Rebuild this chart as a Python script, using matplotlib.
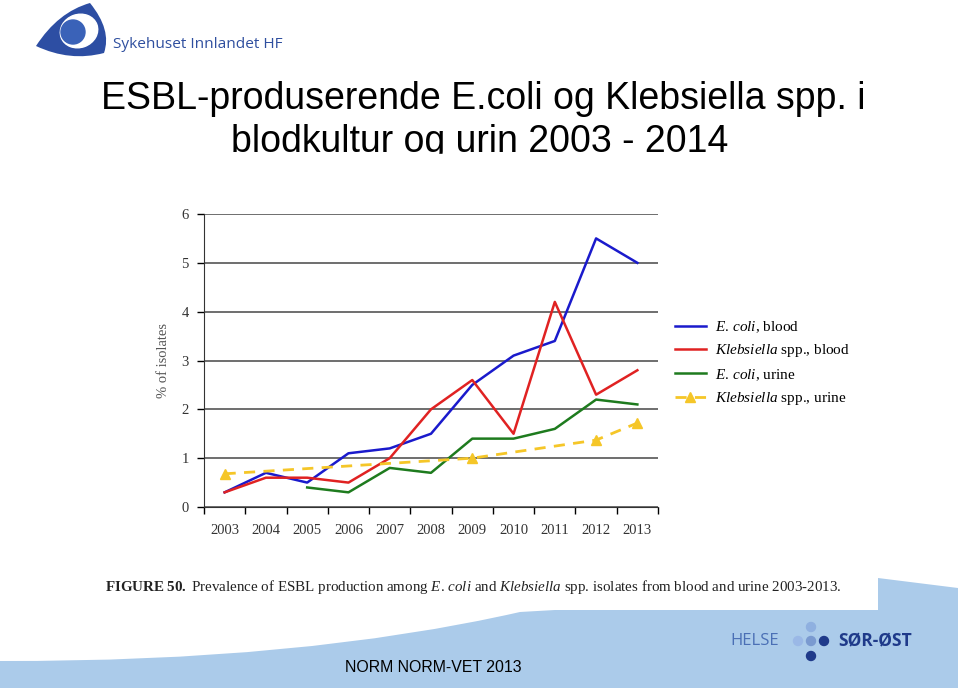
import numpy as np
import matplotlib
matplotlib.use("Agg")
import matplotlib.pyplot as plt
from matplotlib.patches import Ellipse, Circle, Rectangle, PathPatch
from matplotlib.path import Path

# ============================================================================
# Data
# ============================================================================
years = [2003, 2004, 2005, 2006, 2007, 2008, 2009, 2010, 2011, 2012, 2013]

ecoli_blood = [0.3, 0.7, 0.5, 1.1, 1.2, 1.5, 2.5, 3.1, 3.4, 5.5, 5.0]
kleb_blood = [0.3, 0.6, 0.6, 0.5, 1.0, 2.0, 2.6, 1.5, 4.2, 2.3, 2.8]
ecoli_urine = [np.nan, np.nan, 0.4, 0.3, 0.8, 0.7, 1.4, 1.4, 1.6, 2.2, 2.1]

kleb_urine_years = [2003, 2009, 2012, 2013]
kleb_urine = [0.68, 1.0, 1.37, 1.72]

y_ticks = [0, 1, 2, 3, 4, 5, 6]

labels = [r"$\it{E.\,coli}$, blood",
          r"$\it{Klebsiella}$ spp., blood",
          r"$\it{E.\,coli}$, urine",
          r"$\it{Klebsiella}$ spp., urine"]

# ============================================================================
# Style
# ============================================================================
plt.rcParams["mathtext.fontset"] = "custom"
plt.rcParams["mathtext.rm"] = "Liberation Serif"
plt.rcParams["mathtext.it"] = "Liberation Serif:italic"
plt.rcParams["mathtext.bf"] = "Liberation Serif:bold"

W, H = 960, 691
fig = plt.figure(figsize=(W / 100, H / 100), dpi=100)
fig.patch.set_facecolor("white")

# Background layer in pixel coordinates (slide decorations)
bg = fig.add_axes([0, 0, 1, 1], zorder=0)
bg.set_xlim(0, W)
bg.set_ylim(H, 0)
bg.axis("off")

# --- Sykehuset Innlandet logo ---
eye = Path([(36, 46), (58, 12), (90, 3), (112, 30), (104, 53),
            (70, 62), (36, 46)],
           [Path.MOVETO, Path.CURVE3, Path.CURVE3, Path.CURVE3, Path.CURVE3,
            Path.CURVE3, Path.CURVE3])
bg.add_patch(PathPatch(eye, facecolor="#2d4ea3", edgecolor="none"))
bg.add_patch(Ellipse((79, 31), 38, 33, angle=-20, color="white"))
bg.add_patch(Circle((73, 32), 12, color="#3a62b8"))
bg.text(113, 44, "Sykehuset Innlandet HF", fontsize=11.1, color="#2f4f9f",
        family="Open Sans", va="center", ha="left")

# --- Title (second line cut off by the chart box, as in the slide) ---
bg.text(483, 109, "ESBL-produserende E.coli og Klebsiella spp. i",
        fontsize=27, family="Liberation Sans", ha="center", va="baseline")
bg.text(480, 152, "blodkultur og urin 2003 - 2014",
        fontsize=27, family="Liberation Sans", ha="center", va="baseline")
bg.add_patch(Rectangle((0, 154), W, 50, color="white", zorder=5))

# --- Bottom wave band ---
verts = [(0, 688), (0, 661), (300, 662), (520, 612), (555, 610),
         (878, 610), (878, 578), (958, 588), (958, 688), (0, 688)]
codes = [Path.MOVETO, Path.LINETO, Path.CURVE3, Path.CURVE3, Path.LINETO,
         Path.LINETO, Path.LINETO, Path.LINETO, Path.LINETO, Path.CLOSEPOLY]
bg.add_patch(PathPatch(Path(verts, codes), facecolor="#abcbea",
                       edgecolor="none"))

# Figure caption
bg.text(105, 587, r"$\bf{FIGURE\ 50.}$ Prevalence of ESBL production among "
        r"$\it{E.\,coli}$ and $\it{Klebsiella}$ spp. isolates from blood and "
        r"urine 2003-2013.", fontsize=10.8, family="Liberation Serif",
        color="#222222", va="center", ha="left")

bg.text(345, 668, "NORM NORM-VET 2013", fontsize=11.4, family="Liberation Sans",
        va="center", ha="left")

# --- Helse Sør-Øst logo ---
bg.text(730, 641, "HELSE", fontsize=12, family="Open Sans", color="#4a6fb5",
        va="center", ha="left")
bg.text(838, 641, "SØR-ØST", fontsize=12.5, family="Open Sans",
        fontweight="bold", color="#1f3a8a", va="center", ha="left")
for (cx, cy), c in zip([(811, 627), (798, 641), (811, 641), (824, 641),
                        (811, 656)],
                       ["#8fb0e0", "#9ab8e6", "#7a9ad0", "#1f3a8a",
                        "#1f3a8a"]):
    bg.add_patch(Circle((cx, cy), 4.5, color=c))

# ============================================================================
# Chart
# ============================================================================
ax = fig.add_axes([204 / W, 1 - 507 / H, (658 - 204) / W, (507 - 214) / H],
                  zorder=2)
ax.set_facecolor("white")

ax.plot(years, ecoli_blood, color="#1a1acc", lw=1.8, label=labels[0])
ax.plot(years, kleb_blood, color="#e02222", lw=1.8, label=labels[1])
ax.plot(years, ecoli_urine, color="#1e7b1e", lw=1.8, label=labels[2])
ax.plot(kleb_urine_years, kleb_urine, color="#f5c628", lw=2, ls=(0, (4, 3)),
        marker="^", markersize=7, label=labels[3])

ax.set_xlim(2002.5, 2013.5)
ax.set_ylim(0, 6)
ax.set_yticks(y_ticks)
ax.set_xticks(years)
ax.set_xticks(np.arange(2002.5, 2014, 1), minor=True)
ax.tick_params(axis="x", which="major", length=0, pad=12)
ax.tick_params(axis="x", which="minor", length=5, width=1, direction="out")
ax.tick_params(axis="y", length=5, width=1, pad=6)
for lab in ax.get_xticklabels() + ax.get_yticklabels():
    lab.set_family("Liberation Serif")
    lab.set_fontsize(10.5)
    lab.set_color("#333333")

ax.grid(True, axis="y", color="#555555", lw=1.2)
ax.set_axisbelow(True)
for s in ["top", "right"]:
    ax.spines[s].set_visible(False)
ax.spines["left"].set_color("#333333")
ax.spines["bottom"].set_color("#333333")

ax.set_ylabel("% of isolates", family="Liberation Serif", fontsize=10.5,
              color="#555555")
ax.yaxis.set_label_coords(-0.075, 0.5)

fig.legend(loc="upper left", bbox_to_anchor=(669 / W, 1 - 313 / H),
           frameon=False, prop={"family": "Liberation Serif", "size": 11},
           handlelength=2.0, labelspacing=0.5, handletextpad=0.6,
           borderaxespad=0)

fig.savefig("out.png", dpi=100)
